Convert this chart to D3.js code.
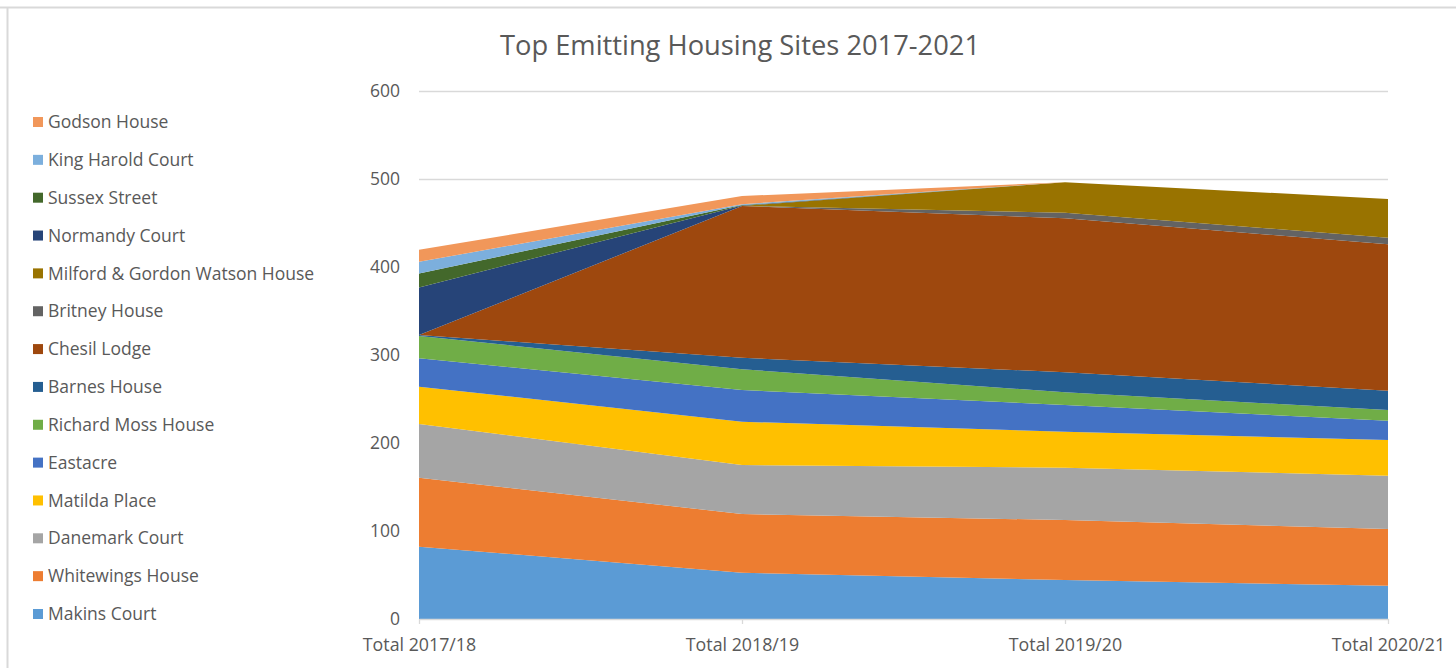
<!DOCTYPE html>
<html>
<head>
<meta charset="utf-8">
<script src="https://cdn.jsdelivr.net/npm/d3@7"></script>
<style>
html,body{margin:0;padding:0;background:#fff;}
svg{display:block;font-family:"Open Sans",sans-serif;}
</style>
</head>
<body>
<svg id="chart" width="1456" height="668"></svg>
<script>
const periods = ["Total 2017/18","Total 2018/19","Total 2019/20","Total 2020/21"];
const sites = ["Makins Court","Whitewings House","Danemark Court","Matilda Place","Eastacre","Richard Moss House","Barnes House","Chesil Lodge","Britney House","Milford & Gordon Watson House","Normandy Court","Sussex Street","King Harold Court","Godson House"];
const makins      = [82.2, 52.6, 44.3, 37.8];
const whitewings  = [78.4, 66.7, 68.2, 64.5];
const danemark    = [61.0, 55.7, 59.4, 60.5];
const matilda     = [42.4, 49.2, 40.9, 40.6];
const eastacre    = [32.3, 36.0, 30.4, 21.9];
const richardMoss = [25.3, 23.6, 14.4, 12.2];
const barnes      = [1.0, 13.1, 22.7, 21.9];
const chesil      = [0, 172.5, 175.0, 166.4];
const britney     = [0, 0, 6.4, 7.5];
const milford     = [0, 0, 34.6, 44.0];
const normandy    = [54.2, 0.5, 0, 0];
const sussex      = [15.9, 0.5, 0, 0];
const kingHarold  = [13.2, 1.0, 0, 0];
const godson      = [13.6, 9.3, 0, 0];
const seriesValues = [makins, whitewings, danemark, matilda, eastacre, richardMoss, barnes, chesil, britney, milford, normandy, sussex, kingHarold, godson];
const colors = ["#5B9BD5","#ED7D31","#A5A5A5","#FFC000","#4472C4","#70AD47","#255E91","#9E480E","#636363","#997300","#264478","#43682B","#7CAFDD","#F1975A"];
const yTicks = [0,100,200,300,400,500,600];
const title = "Top Emitting Housing Sites 2017-2021";

const rows = periods.map((p,i)=>{
  const r = {period:p};
  sites.forEach((s,j)=>{ r[s] = seriesValues[j][i]; });
  return r;
});

const svg = d3.select("#chart");
const pLeft = 419, pRight = 1388, pTop = 91, pBottom = 619;

// frame
svg.append("line").attr("x1",0).attr("x2",1456).attr("y1",7.5).attr("y2",7.5).attr("stroke","#d9d9d9").attr("stroke-width",2);
svg.append("line").attr("x1",7.5).attr("x2",7.5).attr("y1",7).attr("y2",668).attr("stroke","#d9d9d9").attr("stroke-width",2);

const x = d3.scalePoint().domain(periods).range([pLeft,pRight]);
const y = d3.scaleLinear().domain([0,600]).range([pBottom,pTop]);

// gridlines
svg.append("g").selectAll("line").data(yTicks.filter(t=>t>0)).join("line")
  .attr("x1",pLeft).attr("x2",pRight)
  .attr("y1",d=>Math.round(y(d))+0.5).attr("y2",d=>Math.round(y(d))+0.5)
  .attr("stroke","#d9d9d9").attr("stroke-width",1.3);

const stack = d3.stack().keys(sites);
const layers = stack(rows);
const area = d3.area()
  .x(d=>x(d.data.period))
  .y0(d=>y(d[0]))
  .y1(d=>y(d[1]));

svg.append("g").selectAll("path").data(layers).join("path")
  .attr("d",area)
  .attr("fill",(d,i)=>colors[i]);

// x axis
const xAxis = svg.append("g").attr("transform",`translate(0,${pBottom})`)
  .call(d3.axisBottom(x).tickSizeInner(5).tickSizeOuter(0).tickPadding(14));
xAxis.select(".domain").attr("stroke","#d9d9d9").attr("stroke-width",1.3);
xAxis.selectAll(".tick line").attr("stroke","#d9d9d9").attr("stroke-width",1.3);
xAxis.selectAll(".tick text").attr("fill","#595959").style("font-size","17.8px").style("font-family","'Open Sans',sans-serif");

// y axis labels
const yAxis = svg.append("g").attr("transform",`translate(${pLeft},0)`)
  .call(d3.axisLeft(y).tickValues(yTicks).tickSize(0).tickPadding(19));
yAxis.select(".domain").remove();
yAxis.selectAll(".tick text").attr("fill","#595959").style("font-size","17.5px").style("font-family","'Open Sans',sans-serif");

// title
svg.append("text").attr("x",740).attr("y",55).attr("text-anchor","middle")
  .attr("fill","#595959").style("font-size","27.3px").text(title);

// legend
const legendOrder = sites.slice().reverse();
const lg = svg.append("g");
const ls = d3.scalePoint().domain(legendOrder).range([122,614]);
legendOrder.forEach((s)=>{
  const idx = sites.indexOf(s);
  const cy = ls(s);
  lg.append("rect").attr("x",33).attr("y",cy-5).attr("width",10).attr("height",10).attr("fill",colors[idx]);
  lg.append("text").attr("x",48).attr("y",cy).attr("dy","0.35em")
    .attr("fill","#595959").style("font-size","17.5px").text(s);
});
</script>
</body>
</html>
